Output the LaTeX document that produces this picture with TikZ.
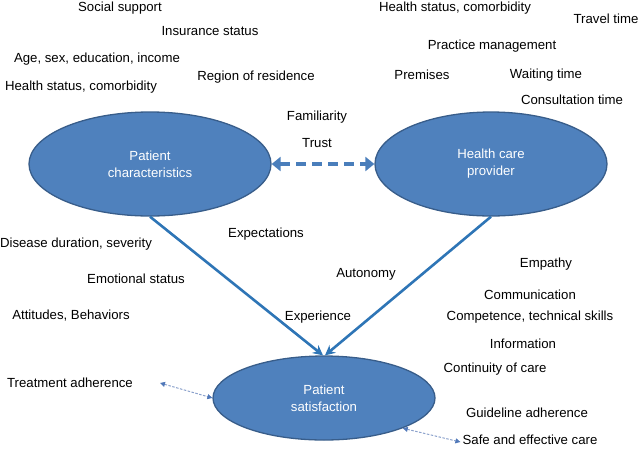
\documentclass[tikz,border=0pt]{standalone}
\usepackage{fontspec}
\setmainfont{Liberation Sans}
\usetikzlibrary{shapes.geometric,arrows.meta}
\definecolor{ellfill}{RGB}{79,129,189}
\definecolor{elldraw}{RGB}{56,93,138}
\definecolor{mainblue}{RGB}{46,117,182}
\definecolor{dashblue}{RGB}{74,126,187}
\definecolor{dotblue}{RGB}{140,162,204}
\definecolor{dottip}{RGB}{80,120,185}
\tikzset{
  lab/.style={font=\fontsize{13.2}{16}\selectfont, inner sep=0pt, text=black},
  bubble/.style={ellipse, draw=elldraw, line width=1.3pt, fill=ellfill, inner sep=0pt,
     text=white, align=center, font=\fontsize{13.2}{17}\selectfont},
  mainline/.style={draw=mainblue, line width=2.6pt, -{Stealth[length=10pt,width=10pt]}},
  dashline/.style={draw=dashblue, line width=4pt, dash pattern=on 10pt off 6pt,
     {Triangle[length=9pt,width=14pt]}-{Triangle[length=9pt,width=14pt]}},
  dotline/.style={draw=dotblue, line width=1pt, dash pattern=on 2.5pt off 1.5pt,
     {Triangle[length=5pt,width=5pt,color=dottip]}-{Triangle[length=5pt,width=5pt,color=dottip]}}
}
\begin{document}
\begin{tikzpicture}[x=1pt,y=-1pt]
\useasboundingbox (0,0) rectangle (640,451);
% ellipses
\node[bubble, minimum width=242pt, minimum height=104pt] (pc) at (150,164) {Patient\\characteristics};
\node[bubble, minimum width=232pt, minimum height=104pt] (hp) at (491,164) {Health care\\provider};
\node[bubble, minimum width=222pt, minimum height=84pt] (ps) at (324,398) {Patient\\satisfaction};
% left top labels
\node[lab] (l1) at (120,8) {Social support};
\node[lab] (l2) at (210,31) {Insurance status};
\node[lab] (l3) at (97,59) {Age, sex, education, income};
\node[lab] (l4) at (256,77) {Region of residence};
\node[lab] (l5) at (81,87) {Health status, comorbidity};
% right top labels
\node[lab] (r1) at (455,8) {Health status, comorbidity};
\node[lab] (r2) at (606,19) {Travel time};
\node[lab] (r3) at (492,46) {Practice management};
\node[lab] (r4) at (422,75) {Premises};
\node[lab] (r5) at (546,75) {Waiting time};
\node[lab] (r6) at (572,100) {Consultation time};
% middle
\node[lab] (m1) at (317,117) {Familiarity};
\node[lab] (m2) at (317,143) {Trust};
% lower left
\node[lab] (b1) at (266,234) {Expectations};
\node[lab] (b2) at (76,244) {Disease duration, severity};
\node[lab] (b3) at (136,279) {Emotional status};
\node[lab] (b4) at (71,316) {Attitudes, Behaviors};
\node[lab] (b5) at (318,317) {Experience};
\node[lab] (ta) at (70,383) {Treatment adherence};
% lower right
\node[lab] (c1) at (366,274) {Autonomy};
\node[lab] (c2) at (546,264) {Empathy};
\node[lab] (c3) at (530,295) {Communication};
\node[lab] (c4) at (530,317) {Competence, technical skills};
\node[lab] (c5) at (523,344) {Information};
\node[lab] (c6) at (495,369) {Continuity of care};
\node[lab] (c7) at (527,413) {Guideline adherence};
\node[lab] (safe) at (530,440) {Safe and effective care};
% connectors
\draw[dashline] (pc.east) -- (hp.west);
\draw[mainline] (pc.south) -- ([xshift=-1pt]ps.north);
\draw[mainline] (hp.south) -- ([xshift=1pt]ps.north);
\coordinate (tafree) at (160,383);
\draw[dotline] (tafree) -- (ps.west);
\draw[dotline] (ps.-21) -- ([xshift=-2pt,yshift=-2pt]safe.west);
\end{tikzpicture}
\end{document}
